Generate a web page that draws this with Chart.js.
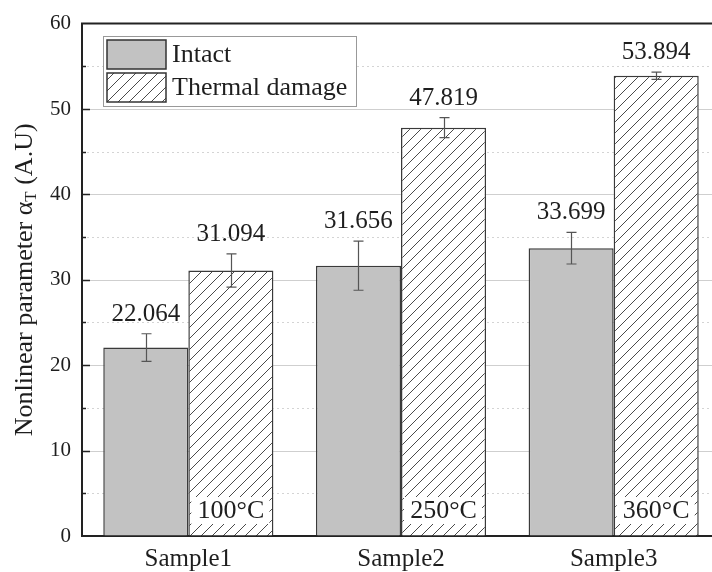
<!DOCTYPE html>
<html>
<head>
<meta charset="utf-8">
<script src="https://cdn.jsdelivr.net/npm/chart.js@4/dist/chart.umd.min.js"></script>
<style>
  html, body { margin: 0; padding: 0; background: #fff; overflow: hidden; }
  #wrap { width: 720px; height: 572px; }
</style>
</head>
<body>
<div id="wrap"><canvas id="myChart" width="720" height="572"></canvas></div>
<script>
const samples = ['Sample1', 'Sample2', 'Sample3']
const intact = [22.064, 31.656, 33.699]
const intactErr = [1.62, 2.88, 1.85]
const thermal = [31.094, 47.819, 53.894]
const thermalErr = [1.95, 1.17, 0.42]
const temps = ['100°C', '250°C', '360°C']
const yTicks = [0, 10, 20, 30, 40, 50, 60]

const serif = "'Liberation Serif', 'Times New Roman', serif"
const ink = '#1e1e1e'

// diagonal hatch used for the thermal damage bars
function makeHatch() {
  const c = document.createElement('canvas')
  c.width = 11
  c.height = 11
  const g = c.getContext('2d')
  g.fillStyle = '#fff'
  g.fillRect(0, 0, 11, 11)
  g.strokeStyle = '#4a4a4a'
  g.lineWidth = 1
  g.beginPath()
  g.moveTo(-1, 12); g.lineTo(12, -1)
  g.moveTo(-6, 6); g.lineTo(6, -6)
  g.moveTo(5, 17); g.lineTo(17, 5)
  g.stroke()
  return g.createPattern(c, 'repeat')
}

const ctx = document.getElementById('myChart').getContext('2d')
const hatch = makeHatch()
const errs = [intactErr, thermalErr]

const framePlugin = {
  id: 'frame',
  beforeDatasetsDraw(chart) {
    const { ctx, chartArea: a, scales: { y } } = chart
    ctx.save()
    for (let v = 5; v < 60; v += 5) {
      const py = Math.round(y.getPixelForValue(v)) + 0.5
      const major = v % 10 === 0
      ctx.strokeStyle = major ? '#cfcfcf' : '#d4d4d4'
      ctx.lineWidth = 1
      ctx.setLineDash(major ? [] : [2, 3])
      ctx.beginPath()
      ctx.moveTo(a.left, py)
      ctx.lineTo(a.right, py)
      ctx.stroke()
    }
    ctx.restore()
  },
  afterDatasetsDraw(chart) {
    const { ctx, chartArea: a, scales: { y } } = chart

    ctx.save()
    // error bars
    chart.data.datasets.forEach((ds, di) => {
      chart.getDatasetMeta(di).data.forEach((bar, i) => {
        const v = ds.data[i]
        const e = errs[di][i]
        const top = y.getPixelForValue(v + e)
        const bot = y.getPixelForValue(v - e)
        const x = Math.round(bar.x) + 0.5
        ctx.strokeStyle = '#555'
        ctx.lineWidth = 1.2
        ctx.beginPath()
        ctx.moveTo(x, top); ctx.lineTo(x, bot)
        ctx.moveTo(x - 5, top); ctx.lineTo(x + 5, top)
        ctx.moveTo(x - 5, bot); ctx.lineTo(x + 5, bot)
        ctx.stroke()

        // value above the error bar
        ctx.fillStyle = ink
        ctx.font = '25px ' + serif
        ctx.textAlign = 'center'
        ctx.textBaseline = 'alphabetic'
        ctx.fillText(v.toFixed(3), bar.x, top - 13)
      })
    })

    // temperature tags at the foot of the thermal bars
    chart.getDatasetMeta(1).data.forEach((bar, i) => {
      const l = bar.x - bar.width / 2 + 3
      const r = bar.x + bar.width / 2 - 4
      ctx.fillStyle = '#fff'
      ctx.fillRect(l, 497, r - l, 27)
      ctx.fillStyle = ink
      ctx.font = '26px ' + serif
      ctx.textAlign = 'center'
      ctx.textBaseline = 'middle'
      ctx.fillText(temps[i], bar.x, 511)
    })

    // inward ticks on the left axis, top border
    ctx.strokeStyle = '#222'
    ctx.lineWidth = 1.5
    ctx.beginPath()
    for (let v = 5; v < 60; v += 5) {
      const py = Math.round(y.getPixelForValue(v)) + 0.5
      ctx.moveTo(a.left, py)
      ctx.lineTo(a.left + (v % 10 === 0 ? 8 : 4), py)
    }
    ctx.stroke()
    ctx.lineWidth = 2
    ctx.beginPath()
    ctx.moveTo(a.left - 1, a.top)
    ctx.lineTo(a.right, a.top)
    ctx.stroke()

    // legend
    const bx = 103, by = 36
    ctx.fillStyle = '#fff'
    ctx.fillRect(bx, by, 253, 70)
    ctx.strokeStyle = '#999'
    ctx.lineWidth = 1
    ctx.strokeRect(bx + 0.5, by + 0.5, 253, 70)
    chart.data.datasets.forEach((ds, di) => {
      const sy = by + 4 + di * 33
      ctx.fillStyle = ds.backgroundColor
      ctx.fillRect(107, sy, 59, 29)
      ctx.strokeStyle = '#333'
      ctx.lineWidth = 1.5
      ctx.strokeRect(107, sy, 59, 29)
      ctx.fillStyle = ink
      ctx.font = '26px ' + serif
      ctx.textAlign = 'left'
      ctx.textBaseline = 'middle'
      ctx.fillText(ds.label, 172, sy + 15)
    })

    // y axis title with subscript T
    const cy = (a.top + a.bottom) / 2
    ctx.translate(25, cy)
    ctx.rotate(-Math.PI / 2)
    ctx.textAlign = 'left'
    ctx.textBaseline = 'middle'
    const head = 'Nonlinear parameter α'
    const sub = 'T'
    const tail = ' (A.U)'
    ctx.font = '26px ' + serif
    const w1 = ctx.measureText(head).width
    const w3 = ctx.measureText(tail).width
    ctx.font = '17px ' + serif
    const w2 = ctx.measureText(sub).width
    let x0 = -(w1 + w2 + w3) / 2
    ctx.fillStyle = ink
    ctx.font = '26px ' + serif
    ctx.fillText(head, x0, 0)
    ctx.font = '17px ' + serif
    ctx.fillText(sub, x0 + w1, 7)
    ctx.font = '26px ' + serif
    ctx.fillText(tail, x0 + w1 + w2, 0)
    ctx.restore()
  }
}

const myChart = new Chart(ctx, {
  type: 'bar',
  data: {
    labels: samples,
    datasets: [
      {
        label: 'Intact',
        data: intact,
        backgroundColor: '#c2c2c2',
        borderColor: '#3a3a3a',
        borderWidth: 1.5,
      },
      {
        label: 'Thermal damage',
        data: thermal,
        backgroundColor: hatch,
        borderColor: '#3a3a3a',
        borderWidth: 1.5,
      },
    ]
  },
  options: {
    responsive: false,
    animation: false,
    categoryPercentage: 0.8,
    barPercentage: 1.0,
    layout: { padding: { top: 21, left: 0, right: 0, bottom: 0 } },
    plugins: {
      legend: { display: false },
      tooltip: { enabled: false },
    },
    scales: {
      x: {
        grid: { display: false },
        border: { color: '#222', width: 2 },
        ticks: { color: ink, font: { family: serif, size: 25 }, padding: 0 },
        afterFit: (scale) => { scale.height = 36 },
      },
      y: {
        min: 0,
        max: 60,
        afterBuildTicks: (scale) => { scale.ticks = yTicks.map((v) => ({ value: v })) },
        grid: { drawOnChartArea: false, drawTicks: false },
        border: { color: '#222', width: 2 },
        ticks: { color: ink, font: { family: serif, size: 21 }, padding: 11 },
        afterFit: (scale) => { scale.width = 82 },
      }
    }
  },
  plugins: [framePlugin]
})
</script>
</body>
</html>
